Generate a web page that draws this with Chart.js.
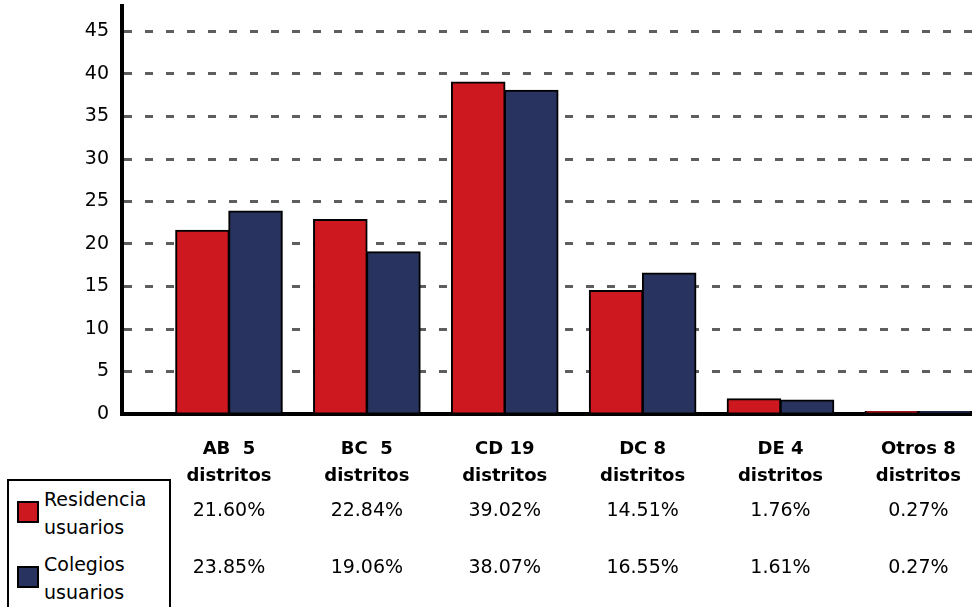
<!DOCTYPE html>
<html>
<head>
<meta charset="utf-8">
<script src="https://cdn.jsdelivr.net/npm/chart.js@4/dist/chart.umd.min.js"></script>
<style>
  html, body { margin: 0; padding: 0; background: #fff; }
  #wrap { position: relative; width: 972px; height: 607px; overflow: hidden; }
  #legend {
    position: absolute; left: 7px; top: 479px; width: 160px; height: 140px;
    border: 2px solid #000; background: #fff;
    font: 19px "DejaVu Sans", sans-serif; color: #000;
  }
  .item { position: absolute; left: 8px; line-height: 28px; padding-left: 27px; white-space: nowrap; }
  .sw { position: absolute; left: 0; width: 18px; height: 18px; border: 2px solid #000; }
</style>
</head>
<body>
<div id="wrap">
  <canvas id="chart"></canvas>
  <div id="legend"></div>
</div>
<script>
const categories = ["AB  5|distritos", "BC  5|distritos", "CD 19|distritos", "DC 8|distritos", "DE 4|distritos", "Otros 8|distritos"];
const residencia = [21.60, 22.84, 39.02, 14.51, 1.76, 0.27];
const colegios = [23.85, 19.06, 38.07, 16.55, 1.61, 0.27];
const yTicks = [0, 5, 10, 15, 20, 25, 30, 35, 40, 45];
const seriesNames = [["Residencia", "usuarios"], ["Colegios", "usuarios"]];
const colors = ["#cc181e", "#28345f"];

const font = '"DejaVu Sans", sans-serif';

// legend box (html)
const legend = document.getElementById("legend");
seriesNames.forEach((name, i) => {
  const it = document.createElement("div");
  it.className = "item";
  it.style.top = (4 + i * 65) + "px";
  it.innerHTML = `<span class="sw" style="background:${colors[i]};top:16px"></span>${name.join("<br>")}`;
  legend.appendChild(it);
});

const tablePlugin = {
  id: "table",
  afterDraw(chart) {
    const { ctx, scales: { x }, chartArea } = chart;
    ctx.save();
    ctx.font = `19px ${font}`;
    ctx.fillStyle = "#000";
    ctx.textAlign = "center";
    ctx.textBaseline = "middle";
    [residencia, colegios].forEach((row, r) => {
      row.forEach((v, i) => {
        ctx.fillText(v.toFixed(2) + "%", x.getPixelForValue(i), chartArea.bottom + 97 + r * 57);
      });
    });
    ctx.restore();
  }
};

new Chart(document.getElementById("chart"), {
  type: "bar",
  data: {
    datasets: [
      { label: seriesNames[0].join(" "), data: residencia.map((v, i) => ({ x: i, y: v })), backgroundColor: colors[0] },
      { label: seriesNames[1].join(" "), data: colegios.map((v, i) => ({ x: i, y: v })), backgroundColor: colors[1] }
    ]
  },
  options: {
    responsive: true,
    maintainAspectRatio: false,
    animation: false,
    devicePixelRatio: 1,
    layout: { padding: { top: 6, right: 0, left: 0, bottom: 0 } },
    datasets: {
      bar: {
        borderColor: "#000", borderWidth: 2, inflateAmount: 0.75,
        categoryPercentage: 0.77, barPercentage: 1
      }
    },
    plugins: { legend: { display: false }, tooltip: { enabled: false } },
    scales: {
      x: {
        type: "linear",
        offset: false,
        min: -0.776,
        max: 5.389,
        grid: { display: false },
        border: { display: true, color: "#000", width: 4 },
        afterBuildTicks: s => { s.ticks = categories.map((_, i) => ({ value: i })); },
        afterFit: s => { s.height = 193; s.paddingLeft = 0; s.paddingRight = 0; },
        ticks: {
          autoSkip: false,
          maxRotation: 0,
          padding: 14,
          color: "#000",
          font: { family: font, size: 18, weight: "bold", lineHeight: 1.5 },
          callback: v => Number.isInteger(v) ? categories[v].split("|") : ""
        }
      },
      y: {
        min: 0,
        max: 48,
        afterFit: s => { s.width = 122; s.paddingTop = 0; s.paddingBottom = 0; },
        afterBuildTicks: s => { s.ticks = yTicks.map(v => ({ value: v })); },
        border: { display: true, color: "#000", width: 4, dash: [8, 13] },
        grid: {
          color: c => c.tick.value === 0 ? "rgba(0,0,0,0)" : "#5e5e5e",
          lineWidth: 3,
          drawTicks: false
        },
        ticks: {
          padding: 13,
          color: "#000",
          font: { family: font, size: 19 }
        }
      }
    }
  },
  plugins: [tablePlugin]
});
</script>
</body>
</html>
